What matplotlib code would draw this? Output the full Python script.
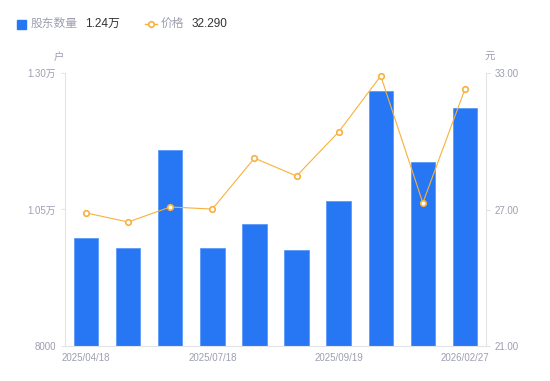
import matplotlib.pyplot as plt
from matplotlib.lines import Line2D
from matplotlib.patches import Rectangle

plt.rcParams["font.family"] = ["Liberation Sans", "Noto Sans CJK SC", "DejaVu Sans"]

dates = ["2025/04/18", "", "", "2025/07/18", "", "", "2025/09/19", "", "", "2026/02/27"]
holders = [9980, 9800, 11590, 9800, 10240, 9760, 10660, 12670, 11370, 12360]
price = [26.85, 26.45, 27.11, 27.02, 29.26, 28.47, 30.41, 32.87, 27.29, 32.29]

blue = "#2776f4"
orange = "#f8b13c"
gray = "#9d9fb0"
axis_gray = "#e3e4e8"

fig = plt.figure(figsize=(5.5, 3.81), dpi=100)
ax = fig.add_axes([65 / 550, 35 / 381, 421 / 550, 273 / 381])
x = list(range(len(holders)))
ax.bar(x, holders, width=0.58, color=blue, edgecolor="#5b9af7", linewidth=0.6, zorder=2)
ax.set_xlim(-0.5, len(holders) - 0.5)
ax.set_ylim(8000, 13000)
ax.set_yticks([8000, 10500, 13000])
ax.set_yticklabels(["8000", "1.05万", "1.30万"])
ax.set_xticks([0, 3, 6, 9])
ax.set_xticklabels([dates[i] for i in [0, 3, 6, 9]])

ax2 = ax.twinx()
ax2.plot(x, price, color=orange, linewidth=0.8, marker="o", markersize=4,
         markerfacecolor="white", markeredgecolor=orange, markeredgewidth=1.2, zorder=3)
ax2.set_ylim(21, 33)
ax2.set_yticks([21, 27, 33])
ax2.set_yticklabels(["21.00", "27.00", "33.00"])

for a in (ax, ax2):
    for s in a.spines.values():
        s.set_color(axis_gray)
    a.spines["top"].set_visible(False)
    a.tick_params(colors=gray, labelsize=7, length=3, width=0.8)
    a.tick_params(axis="y", colors=axis_gray, labelcolor=gray)
ax.tick_params(axis="x", length=0, pad=5)
ax.spines["right"].set_visible(False)
ax2.spines["left"].set_visible(False)
ax2.spines["bottom"].set_visible(False)

fig.text(59 / 550, 1 - 57 / 381, "户", color=gray, fontsize=7.5, ha="center", va="center")
fig.text(490 / 550, 1 - 57 / 381, "元", color=gray, fontsize=7.5, ha="center", va="center")

# 图例
fig.patches.append(Rectangle((17 / 550, 1 - 29 / 381), 9 / 550, 9 / 381,
                             transform=fig.transFigure, color=blue, figure=fig))
fig.text(31 / 550, 1 - 24 / 381, "股东数量", color=gray, fontsize=8.5, va="center")
fig.text(85 / 550, 1 - 24 / 381, "1.24万", color="#333333", fontsize=8.5, va="center")
fig.lines.append(Line2D([145 / 550, 157 / 550], [1 - 24 / 381, 1 - 24 / 381],
                        transform=fig.transFigure, color=orange, linewidth=1))
fig.lines.append(Line2D([151 / 550], [1 - 24 / 381], transform=fig.transFigure,
                        marker="o", markersize=4, markerfacecolor="white",
                        markeredgecolor=orange, markeredgewidth=1.2, color=orange))
fig.text(161 / 550, 1 - 24 / 381, "价格", color=gray, fontsize=8.5, va="center")
fig.text(192 / 550, 1 - 24 / 381, "32.290", color="#333333", fontsize=8.5, va="center")

fig.savefig("out.png", dpi=100)
